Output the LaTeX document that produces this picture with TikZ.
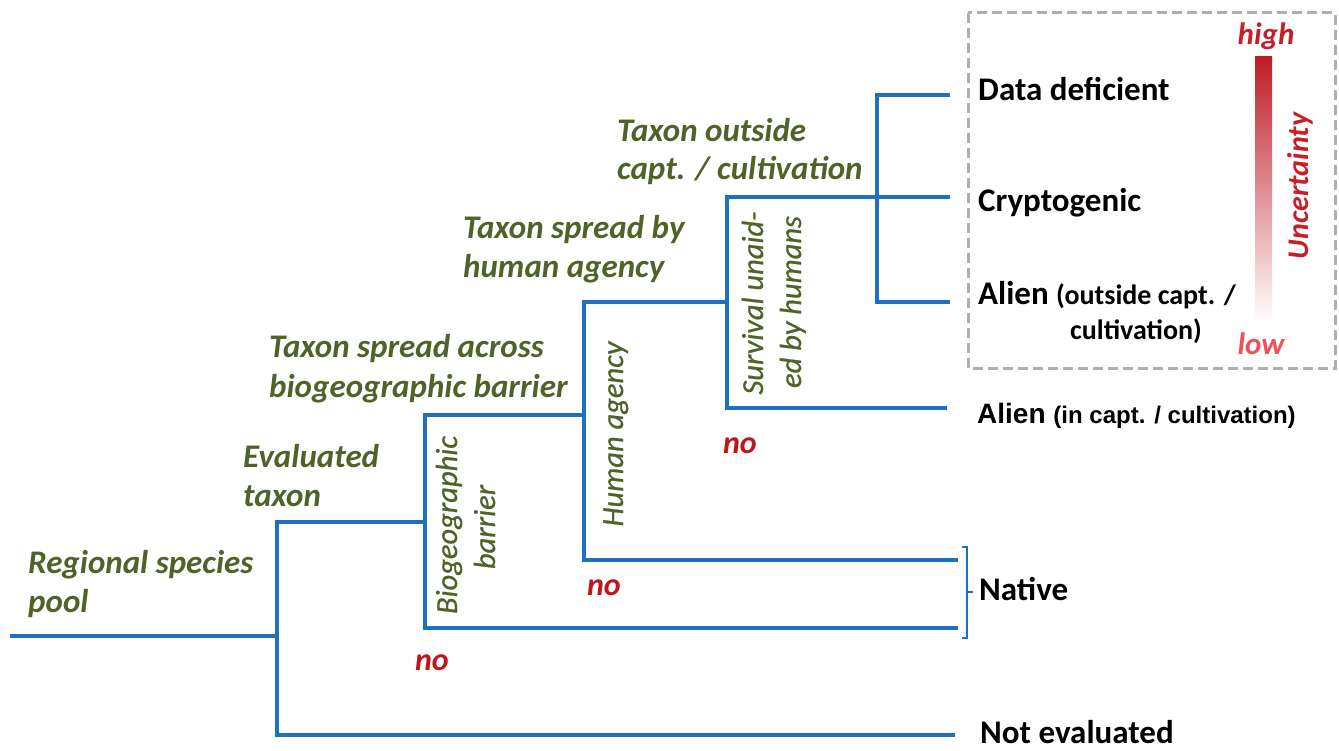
\documentclass[tikz,border=0pt]{standalone}
\usepackage{fontspec}
\setmainfont{Carlito}
\newfontfamily\rotfont{Carlito}[ItalicFeatures={FakeBold=0.7}]
\newfontfamily\arialfont{Liberation Sans}
\definecolor{treeblue}{RGB}{30,112,192}
\definecolor{leafgreen}{RGB}{79,98,40}
\definecolor{noRed}{RGB}{192,20,30}
\definecolor{hiRed}{RGB}{200,30,40}
\definecolor{loRed}{RGB}{240,80,90}
\definecolor{boxgray}{RGB}{175,175,175}
\begin{document}
\begin{tikzpicture}[x=1pt,y=-1pt,
  branch/.style={draw=treeblue, line width=4pt},
  gtext/.style={text=leafgreen, font=\fontsize{33}{38}\selectfont\bfseries\itshape, inner sep=0, anchor=base west},
  rtext/.style={text=leafgreen, font=\rotfont\fontsize{30.5}{36}\selectfont\itshape, inner sep=0, anchor=base, rotate=90},
  notext/.style={text=noRed, font=\fontsize{32}{38}\selectfont\bfseries\itshape, inner sep=0},
  leaf/.style={font=\fontsize{33}{38}\selectfont\bfseries, inner sep=0, anchor=base west},
  sub/.style={font=\fontsize{28}{32}\selectfont\bfseries, inner sep=0, anchor=base west}
]
\useasboundingbox (0,0) rectangle (1339,751);

% ---- coordinates of the tree ----
\coordinate (start) at (10,636);
\coordinate (j1) at (277,636);
\coordinate (e-top) at (277,522);
\coordinate (e-bot) at (277,735);
\coordinate (ne-end) at (955,735);
\coordinate (j2) at (425,522);
\coordinate (b-top) at (425,415);
\coordinate (b-bot) at (425,628);
\coordinate (nat2-end) at (958,628);
\coordinate (j3) at (584,415);
\coordinate (h-top) at (584,302);
\coordinate (h-bot) at (584,560);
\coordinate (nat1-end) at (958,560);
\coordinate (j4) at (727,302);
\coordinate (s-top) at (727,197);
\coordinate (s-bot) at (727,408);
\coordinate (crypt-end) at (950,197);
\coordinate (alienin-end) at (947,408);
\coordinate (o-top) at (877,95);
\coordinate (o-bot) at (877,302);
\coordinate (dd-end) at (950,95);
\coordinate (alienout-end) at (950,302);

% ---- tree ----
\draw[branch] (start) -- (j1);
\draw[branch] (j2) -- (e-top) -- (e-bot) -- (ne-end);
\draw[branch] (j3) -- (b-top) -- (b-bot) -- (nat2-end);
\draw[branch] (j4) -- (h-top) -- (h-bot) -- (nat1-end);
\draw[branch] (crypt-end) -- (s-top) -- (s-bot) -- (alienin-end);
\draw[branch] (dd-end) -- (o-top) -- (o-bot) -- (alienout-end);

% ---- bracket for Native ----
\coordinate (br-t) at (962,547);
\coordinate (br-b) at (962,638);
\coordinate (br-mid) at (967,592);
\coordinate (br-m) at (973,592);
\draw[draw=treeblue, line width=2.5pt] (br-t) -- (967,547) -- (967,638) -- (br-b);
\draw[draw=treeblue, line width=2.5pt] (br-mid) -- (br-m);

% ---- green question labels ----
\node[gtext] (rsp1) at (28,573) {Regional species};
\node[gtext] (rsp2) at (28,612) {pool};
\node[gtext] (ev1) at (243,467) {Evaluated};
\node[gtext] (ev2) at (243,506) {taxon};
\node[gtext] (bio1) at (269,358) {Taxon spread across};
\node[gtext] (bio2) at (269,397) {biogeographic barrier};
\node[gtext] (hum1) at (463,239) {Taxon spread by};
\node[gtext] (hum2) at (463,278) {human agency};
\node[gtext] (out1) at (617,142) {Taxon outside};
\node[gtext] (out2) at (617,180) {capt. / cultivation};

% ---- rotated labels ----
\node[rtext] (rb1) at (457,525) {Biogeographic};
\node[rtext] (rb2) at (495,527) {barrier};
\node[rtext] (rh) at (623,434) {Human agency};
\node[rtext] (rs1) at (763,303) {Survival unaid-};
\node[rtext] (rs2) at (801,302) {ed by humans};

% ---- "no" labels ----
\node[notext] (no1) at (432,663) {no};
\node[notext] (no2) at (604,588) {no};
\node[notext] (no3) at (740,446) {no};

% ---- outcomes ----
\node[leaf] (dd) at (978,101) {Data deficient};
\node[leaf] (crypt) at (978,212) {Cryptogenic};
\node[leaf] (alo) at (978,305) {Alien \fontsize{28}{32}\selectfont(outside capt. /};
\node[sub] (alo2) at (1070,340) {cultivation)};
\node[inner sep=0, anchor=base west, font=\arialfont\bfseries\fontsize{28}{32}\selectfont] (ali) at (977,423) {Alien {\fontsize{24}{28}\selectfont(in capt. / cultivation)}};
\node[leaf] (nat) at (979,600) {Native};
\node[leaf] (nev) at (980,743) {Not evaluated};

% ---- uncertainty box ----
\draw[draw=boxgray, line width=3pt, dash pattern=on 10pt off 5pt] (968,13) rectangle (1335,368);
\shade[top color=hiRed!95!black, bottom color=white] (1255,57) rectangle (1272,322);
\node[text=hiRed, font=\fontsize{31}{36}\selectfont\bfseries\itshape, inner sep=0, anchor=base] (hi) at (1266,45) {high};
\node[text=loRed, font=\fontsize{31}{36}\selectfont\bfseries\itshape, inner sep=0, anchor=base] (lo) at (1261,355) {low};
\node[text=hiRed, font=\fontsize{30}{36}\selectfont\bfseries\itshape, inner sep=0, anchor=base, rotate=90] (unc) at (1308,186) {Uncertainty};
\end{tikzpicture}
\end{document}
